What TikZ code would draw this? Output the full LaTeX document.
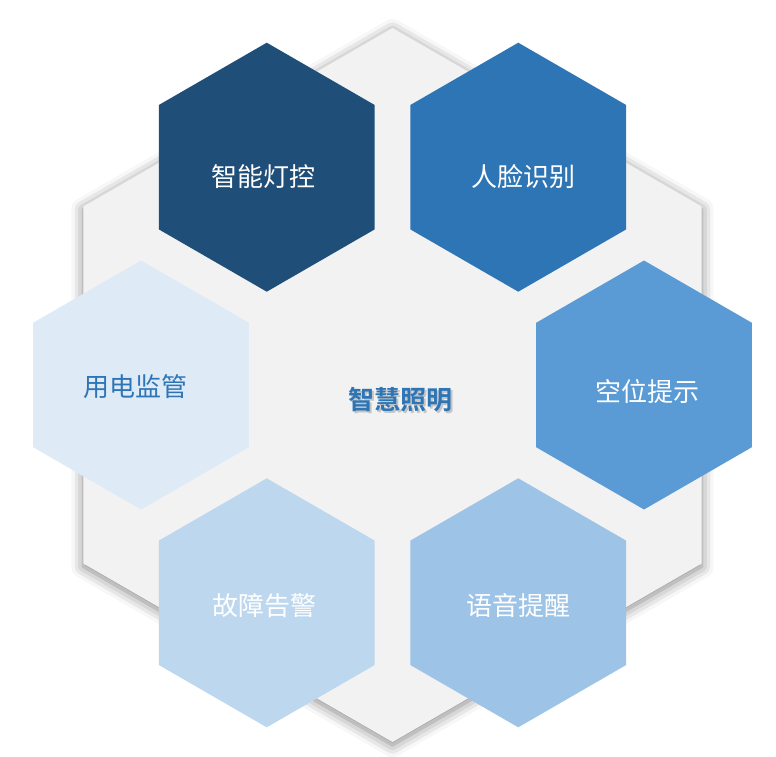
\documentclass[tikz,border=0pt]{standalone}
\usepackage{fontspec}
\newfontfamily\cjk[BoldFont={Noto Sans CJK SC Bold}]{Noto Sans CJK SC}
\usetikzlibrary{shapes.geometric, shadows.blur}
\definecolor{hexBack}{HTML}{F2F2F2}
\definecolor{blueDeep}{HTML}{1F4E79}
\definecolor{blueMid}{HTML}{2E75B6}
\definecolor{blueSoft}{HTML}{5B9BD5}
\definecolor{bluePale}{HTML}{9DC3E6}
\definecolor{blueMist}{HTML}{BDD7EE}
\definecolor{blueIce}{HTML}{DEEBF7}

\tikzset{
  hexa/.style={regular polygon, regular polygon sides=6, shape border rotate=30,
               minimum size=249pt, inner sep=0pt, draw=none},
  hexlabel/.style={font=\cjk\fontsize{26}{30}\selectfont, text=white, inner sep=0pt}
}

\begin{document}
\begin{tikzpicture}[x=1pt, y=1pt]
    \useasboundingbox (0,0) rectangle (776,-757);

    % background hexagon
    \node[regular polygon, regular polygon sides=6, shape border rotate=30,
          minimum size=714pt, inner sep=0pt, fill=hexBack,
          blur shadow={shadow xshift=0pt, shadow yshift=-3pt,
                       shadow blur radius=12pt, shadow opacity=50}] (hub) at (392.5,-385) {};

    \node[hexa, fill=blueSoft] (seat) at ([shift={(0:251.5)}]hub.center) {};
    \node[hexa, fill=blueMid] (face) at ([shift={(60:251.5)}]hub.center) {};
    \node[hexa, fill=blueDeep] (lamp) at ([shift={(120:251.5)}]hub.center) {};
    \node[hexa, fill=blueIce] (power) at ([shift={(180:251.5)}]hub.center) {};
    \node[hexa, fill=blueMist] (fault) at ([shift={(240:251.5)}]hub.center) {};
    \node[hexa, fill=bluePale] (voice) at ([shift={(300:251.5)}]hub.center) {};

    \node[hexlabel] (seattext) at ([xshift=3pt, yshift=-7pt]seat.center) {空位提示};
    \node[hexlabel] (facetext) at ([xshift=5pt, yshift=-9.5pt]face.center) {人脸识别};
    \node[hexlabel] (lamptext) at ([xshift=-3pt, yshift=-9.5pt]lamp.center) {智能灯控};
    \node[hexlabel, text=blueMid] (powertext) at ([xshift=-6pt, yshift=-2pt]power.center) {用电监管};
    \node[hexlabel] (faulttext) at ([xshift=-2pt, yshift=-3pt]fault.center) {故障告警};
    \node[hexlabel] (voicetext) at ([yshift=-3pt]voice.center) {语音提醒};

    % centre title
    \node[hexlabel, font=\cjk\bfseries\fontsize{26}{30}\selectfont, text=black!35, opacity=0.6]
      (titleshade) at ([xshift=9.5pt, yshift=-16.5pt]hub.center) {智慧照明};
    \node[hexlabel, font=\cjk\bfseries\fontsize{26}{30}\selectfont, text=blueMid]
      (title) at ([xshift=8pt, yshift=-15pt]hub.center) {智慧照明};
  \end{tikzpicture}
\end{document}
